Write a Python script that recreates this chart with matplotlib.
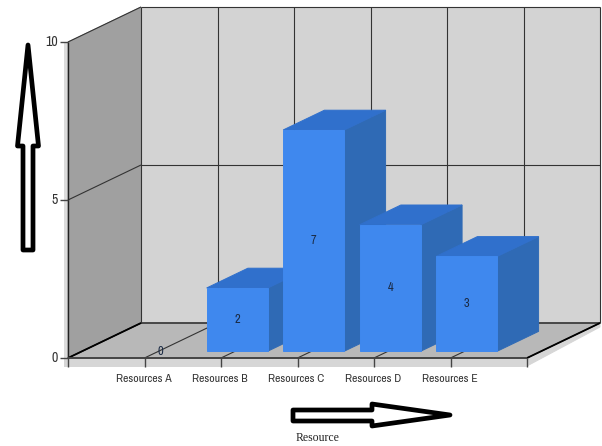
import matplotlib
matplotlib.use('Agg')
import matplotlib.pyplot as plt
from matplotlib.patches import Polygon

# Данные диаграммы
resources = ['Resources A', 'Resources B', 'Resources C', 'Resources D', 'Resources E']
values = [0, 2, 7, 4, 3]
y_ticks = [0, 5, 10]
x_label = 'Resource'

# Размер области в единицах данных: шесть категорий, значения 0..10
W, H = 602, 446
X_UNIT, Y_UNIT = 76.5, 31.6
X0, Y0 = 68, 358
DX, DY = 73 / X_UNIT, 35 / Y_UNIT
XMAX, YMAX = 6, 10


def proj(x, v, d=0.0):
    # Псевдо-3D: смещаем точку по глубине d (0 - перед, 1 - задняя стенка)
    return x + d * DX, v + d * DY


def px(x, y):
    # Пиксели картинки -> координаты фигуры, для стрелок
    return x / W, 1 - y / H


fig = plt.figure(figsize=(W / 100, H / 100), dpi=100)
ax = fig.add_axes([0, 0, 1, 1])
ax.set_xlim(-X0 / X_UNIT, (W - X0) / X_UNIT)
ax.set_ylim((Y0 - H) / Y_UNIT, Y0 / Y_UNIT)
ax.axis('off')


def face(points, color, z=2):
    ax.add_patch(Polygon(points, closed=True, facecolor=color, edgecolor=color, linewidth=0.7, zorder=z))


# Светлая кромка слева и снизу
strip = 4 / X_UNIT
low = -8 / Y_UNIT
face([(-strip, YMAX), (0, YMAX), (0, low), (-strip, low)], '#dcdcdc', 1)
face([(-strip, 0), proj(XMAX, 0), proj(XMAX, low), (-strip, low)], '#d6d6d6', 1)
face([proj(XMAX, low), proj(XMAX, 0), proj(XMAX, 0, 1), proj(XMAX, low / 2, 1)], '#d6d6d6', 1)

# Стенки и пол
face([proj(0, 0, 1), proj(XMAX, 0, 1), proj(XMAX, YMAX, 1), proj(0, YMAX, 1)], '#d3d3d3')
face([proj(0, 0), proj(0, 0, 1), proj(0, YMAX, 1), proj(0, YMAX)], '#a0a0a0')
face([proj(0, 0), proj(XMAX, 0), proj(XMAX, 0, 1), proj(0, 0, 1)], '#b8b8b8')


def line(a, b, lw=1.0, color='#222222', z=3):
    ax.plot([a[0], b[0]], [a[1], b[1]], color=color, lw=lw, zorder=z, solid_capstyle='butt')


# Сетка
for x in range(XMAX + 1):
    line(proj(x, 0, 1), proj(x, YMAX, 1), 0.8, '#333333')
    line(proj(x, 0), proj(x, 0, 1), 0.8, '#333333')
for t in y_ticks:
    line(proj(0, t), proj(0, t, 1), 0.8, '#333333')
    line(proj(0, t, 1), proj(XMAX, t, 1), 0.8 if t else 1.2, '#333333')
line(proj(0, 0), proj(0, 0, 1), 1.3, 'black')
line(proj(XMAX, 0), proj(XMAX, 0, 1), 1.3, 'black')
line(proj(0, 0), proj(0, YMAX), 1.0)
line(proj(0, 0), proj(XMAX, 0), 1.4, '#444444')

# Деления и подписи осей
font = ['Archivo Narrow', 'PT Sans Narrow', 'Liberation Sans']
tick_x = 8 / X_UNIT
tick_y = 8.5 / Y_UNIT
for t in y_ticks:
    line((-tick_x, t), (0, t), 1.0, '#444444')
    ax.text(-tick_x - 2 / X_UNIT, t, str(t), ha='right', va='center', fontsize=10,
            family=font, color='#333333', zorder=5)
for x in range(XMAX + 1):
    line((x, 0), (x, -tick_y), 1.0, '#444444')
for i, name in enumerate(resources):
    ax.text(i + 1 - 1 / X_UNIT, -tick_y - 7 / Y_UNIT, name, ha='center', va='top', fontsize=8.5,
            family=font, color='#333333', zorder=5)

# Столбцы
BAR_W = 0.8
BAR_SHIFT = 2 / X_UNIT
D_FRONT, D_BACK = 0.195, 0.76
FRONT, TOP, SIDE = '#3f88ee', '#3070cc', '#2f6ab5'
for i, val in enumerate(values):
    c = i + 1 + BAR_SHIFT
    l, r = c - BAR_W / 2, c + BAR_W / 2
    if val > 0:
        face([proj(r, 0, D_FRONT), proj(r, 0, D_BACK), proj(r, val, D_BACK), proj(r, val, D_FRONT)], SIDE, 4)
        face([proj(l, val, D_FRONT), proj(r, val, D_FRONT), proj(r, val, D_BACK), proj(l, val, D_BACK)], TOP, 4)
        face([proj(l, 0, D_FRONT), proj(r, 0, D_FRONT), proj(r, val, D_FRONT), proj(l, val, D_FRONT)], FRONT, 4)
    lx, ly = proj(c, val / 2, D_FRONT)
    ax.text(lx, ly, str(val), ha='center', va='center', fontsize=9, family=font,
            color='#1a2a44', zorder=6)

# Нарисованные от руки стрелки
up_arrow = [(28, 45), (38.5, 146), (33, 146), (33, 250), (23, 250), (23, 146), (17.5, 146)]
right_arrow = [(293, 410), (372, 410), (372, 404), (450, 415), (372, 426), (372, 421), (293, 421)]
for shape in (up_arrow, right_arrow):
    fig.add_artist(Polygon([px(*p) for p in shape], closed=True, facecolor='white', edgecolor='black',
                           linewidth=3.4, joinstyle='round', transform=fig.transFigure))

fig.text(*px(318, 438), x_label, ha='center', va='center', fontsize=8.5,
         family='Liberation Serif', color='#222222')

fig.savefig('out.png', dpi=100)
